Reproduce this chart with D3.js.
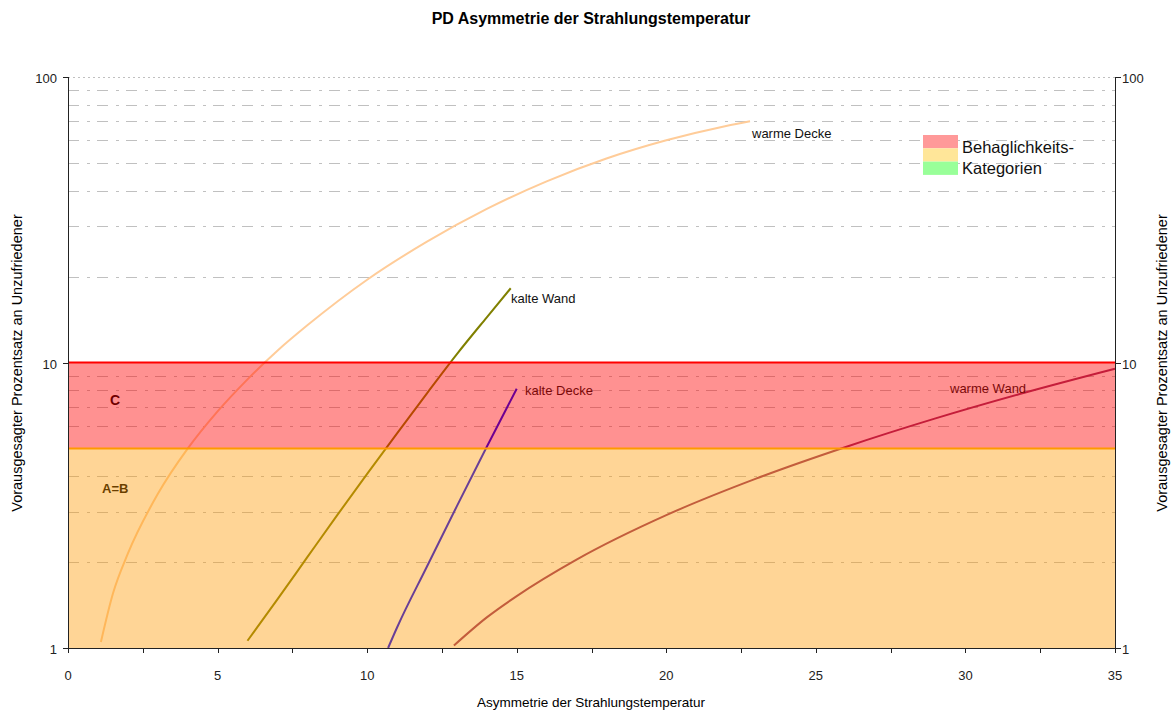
<!DOCTYPE html>
<html>
<head>
<meta charset="utf-8">
<script src="https://cdn.jsdelivr.net/npm/d3@7"></script>
<style>
  body { margin: 0; background: #fff; }
  svg text { font-family: Arial, "Liberation Sans", sans-serif; }
</style>
</head>
<body>
<div id="chart"></div>
<script>
// values
var xWarmeDecke = [1.1, 1.5, 2, 3, 4, 5, 6, 7, 8, 10, 12, 14, 16, 18, 20, 22, 22.8];
var pdWarmeDecke = [1.05, 1.55, 2.14, 3.46, 4.99, 6.74, 8.73, 11.0, 13.5, 19.5, 26.5, 34.5, 43.1, 51.8, 60.0, 67.4, 70.0];

var xKalteWand = [6, 7, 8, 9, 10, 11, 12, 13, 14, 14.8];
var pdKalteWand = [1.06, 1.48, 2.08, 2.92, 4.07, 5.65, 7.8, 10.7, 14.4, 18.2];

var xKalteDecke = [10.7, 11, 12, 13, 14, 15];
var pdKalteDecke = [1.0, 1.18, 1.93, 3.14, 5.07, 8.09];

var xWarmeWand = [12.9, 14, 15, 17, 20, 23, 26, 29, 32, 35];
var pdWarmeWand = [1.02, 1.28, 1.52, 2.04, 2.92, 3.92, 5.06, 6.37, 7.85, 9.51];

var seriesNames = ["warme Decke", "kalte Wand", "kalte Decke", "warme Wand"];
var seriesColors = ["#FFCC99", "#808000", "#0000FF", "#993366"];

var bandNames = ["C", "A=B"];
var bandLimits = [[5, 10], [1, 5]];

var xTicks = [0, 5, 10, 15, 20, 25, 30, 35];
var xMinorTicks = [2.5, 7.5, 12.5, 17.5, 22.5, 27.5, 32.5];
var yTicks = [1, 10, 100];
var yGrid = [2, 3, 4, 5, 6, 7, 8, 9, 20, 30, 40, 50, 60, 70, 80, 90];

var legendColors = ["#FF9999", "#FFE699", "#99FF99"];
var legendText = ["Behaglichkeits-", "Kategorien"];

var W = 1175, H = 713;
var pLeft = 68, pRight = 1115, pTop = 77, pBottom = 648;

var svg = d3.select("#chart").append("svg")
    .attr("width", W)
    .attr("height", H);

var x = d3.scaleLinear().domain([0, 35]).range([pLeft, pRight]);
var y = d3.scaleLog().domain([1, 100]).range([pBottom, pTop]);

// title
svg.append("text")
    .attr("x", 591).attr("y", 24)
    .attr("text-anchor", "middle")
    .attr("font-size", "16px")
    .attr("font-weight", "bold")
    .text("PD Asymmetrie der Strahlungstemperatur");

// gridlines
svg.selectAll("line.grid")
    .data(yGrid)
    .enter()
    .append("line")
    .attr("class", "grid")
    .attr("x1", pLeft).attr("x2", pRight)
    .attr("y1", function(d){ return Math.round(y(d)) + 0.5; })
    .attr("y2", function(d){ return Math.round(y(d)) + 0.5; })
    .attr("stroke", "#c0c0c0")
    .attr("stroke-dasharray", "11,8,3,7");

svg.append("line")
    .attr("x1", pLeft).attr("x2", pRight)
    .attr("y1", y(100) + 0.5).attr("y2", y(100) + 0.5)
    .attr("stroke", "#c0c0c0")
    .attr("stroke-dasharray", "2,3");

// curves
var xs = [xWarmeDecke, xKalteWand, xKalteDecke, xWarmeWand];
var ys = [pdWarmeDecke, pdKalteWand, pdKalteDecke, pdWarmeWand];

var line = d3.line()
    .x(function(d){ return x(d[0]); })
    .y(function(d){ return y(d[1]); })
    .curve(d3.curveMonotoneX);

seriesNames.forEach(function(name, i){
    var pts = xs[i].map(function(v, j){ return [v, ys[i][j]]; });
    svg.append("path")
        .datum(pts)
        .attr("d", line)
        .attr("fill", "none")
        .attr("stroke", seriesColors[i])
        .attr("stroke-width", 2);
});

// curve labels
var labelPos = [[752, 138], [511, 303], [525, 395], [950, 393]];
seriesNames.forEach(function(name, i){
    svg.append("text")
        .attr("x", labelPos[i][0]).attr("y", labelPos[i][1])
        .attr("font-size", "13px")
        .attr("fill", "#111")
        .text(name);
});

// band labels (drawn below the transparent bands)
svg.append("text")
    .attr("x", 110).attr("y", 405)
    .attr("font-size", "14px").attr("font-weight", "bold")
    .attr("fill", "#000")
    .text(bandNames[0]);
svg.append("text")
    .attr("x", 102).attr("y", 493)
    .attr("font-size", "13px").attr("font-weight", "bold")
    .attr("fill", "#000")
    .text(bandNames[1]);

// comfort bands
var bandFill = ["#FF0000", "#FF9900"];
var bandOpacity = [0.43, 0.41];
bandLimits.forEach(function(b, i){
    svg.append("rect")
        .attr("x", pLeft)
        .attr("width", pRight - pLeft)
        .attr("y", y(b[1]))
        .attr("height", y(b[0]) - y(b[1]))
        .attr("fill", bandFill[i])
        .attr("fill-opacity", bandOpacity[i]);
    svg.append("line")
        .attr("x1", pLeft).attr("x2", pRight)
        .attr("y1", y(b[1])).attr("y2", y(b[1]))
        .attr("stroke", bandFill[i])
        .attr("stroke-width", 2);
});

// axes
var axisColor = "#222";
svg.append("line").attr("x1", pLeft + 0.5).attr("x2", pLeft + 0.5)
    .attr("y1", pTop).attr("y2", pBottom).attr("stroke", axisColor);
svg.append("line").attr("x1", pRight + 0.5).attr("x2", pRight + 0.5)
    .attr("y1", pTop).attr("y2", pBottom).attr("stroke", axisColor);
svg.append("line").attr("x1", pLeft).attr("x2", pRight + 1)
    .attr("y1", pBottom + 0.5).attr("y2", pBottom + 0.5).attr("stroke", axisColor);

// x ticks
svg.selectAll("line.xtick")
    .data(xTicks.concat(xMinorTicks))
    .enter()
    .append("line")
    .attr("x1", function(d){ return Math.round(x(d)) + 0.5; })
    .attr("x2", function(d){ return Math.round(x(d)) + 0.5; })
    .attr("y1", pBottom).attr("y2", pBottom + 5)
    .attr("stroke", axisColor);

svg.selectAll("text.xlab")
    .data(xTicks)
    .enter()
    .append("text")
    .attr("x", function(d){ return x(d); })
    .attr("y", 680)
    .attr("text-anchor", "middle")
    .attr("font-size", "13px")
    .attr("fill", "#222")
    .text(function(d){ return d; });

// y ticks, both sides
yTicks.forEach(function(t){
    var yy = Math.round(y(t)) + 0.5;
    svg.append("line").attr("x1", pLeft - 5).attr("x2", pLeft)
        .attr("y1", yy).attr("y2", yy).attr("stroke", axisColor);
    svg.append("line").attr("x1", pRight).attr("x2", pRight + 6)
        .attr("y1", yy).attr("y2", yy).attr("stroke", axisColor);
    svg.append("text").attr("x", 57).attr("y", yy + 5)
        .attr("text-anchor", "end").attr("font-size", "13px").attr("fill", "#222")
        .text(t);
    svg.append("text").attr("x", 1122).attr("y", yy + 5)
        .attr("font-size", "13px").attr("fill", "#222")
        .text(t);
});

// axis titles
svg.append("text")
    .attr("x", 591).attr("y", 707)
    .attr("text-anchor", "middle")
    .attr("font-size", "13.5px")
    .text("Asymmetrie der Strahlungstemperatur");

[22, 1167].forEach(function(px){
    svg.append("text")
        .attr("transform", "translate(" + px + ",363) rotate(-90)")
        .attr("text-anchor", "middle")
        .attr("font-size", "14.5px")
        .text("Vorausgesagter Prozentsatz an Unzufriedener");
});

// legend
svg.selectAll("rect.leg")
    .data(legendColors)
    .enter()
    .append("rect")
    .attr("x", 923)
    .attr("y", function(d, i){ return 135 + i * 13.3; })
    .attr("width", 35)
    .attr("height", 13.3)
    .attr("fill", function(d){ return d; });

svg.selectAll("text.leg")
    .data(legendText)
    .enter()
    .append("text")
    .attr("x", 962)
    .attr("y", function(d, i){ return 153 + i * 21; })
    .attr("font-size", "16.5px")
    .attr("fill", "#111")
    .text(function(d){ return d; });
</script>
</body>
</html>
